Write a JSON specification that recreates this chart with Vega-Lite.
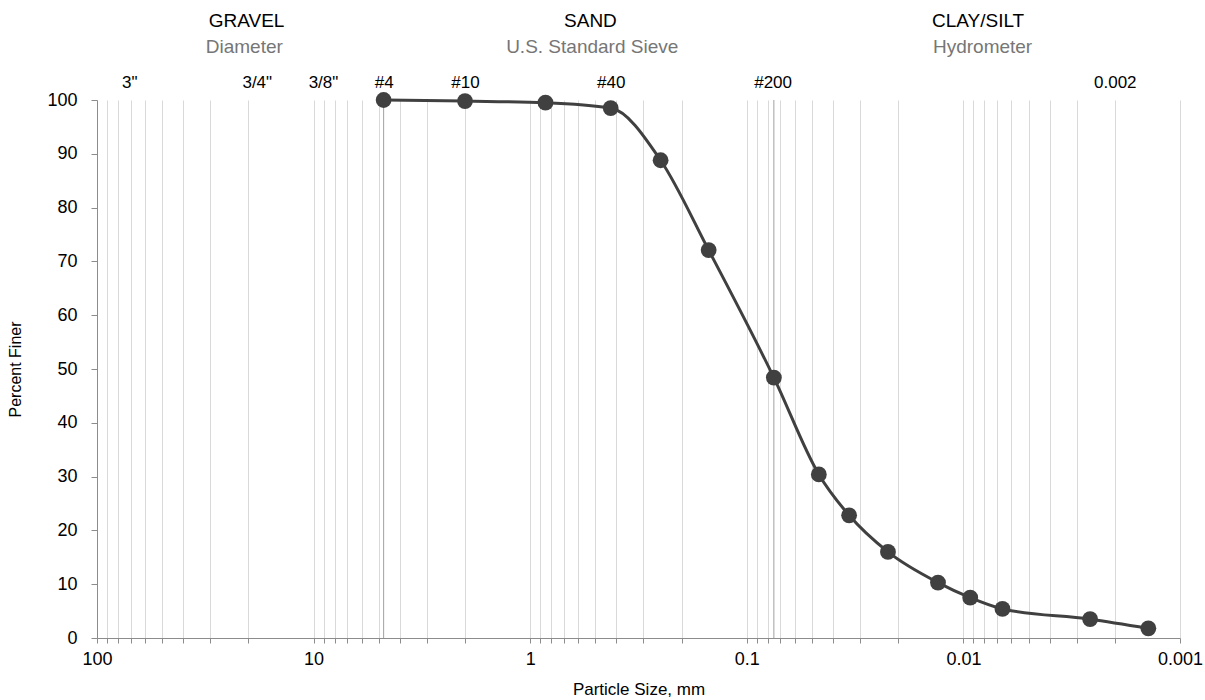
{
  "$schema": "https://vega.github.io/schema/vega-lite/v6.json",
  "width": 1083,
  "height": 538,
  "autosize": {"type": "none"},
  "padding": {"left": 97, "top": 100, "right": 25, "bottom": 62},
  "background": "white",
  "config": {
    "view": {"stroke": null},
    "font": "Liberation Sans",
    "axis": {"labelFont": "Liberation Sans", "titleFont": "Liberation Sans"},
    "axisY": {
      "values": [0, 2, 4, 6, 8, 10, 12, 14, 16, 18, 20, 22, 24, 26, 28, 30, 32, 34, 36, 38, 40, 42, 44, 46, 48, 50, 52, 54, 56, 58, 60, 62, 64, 66, 68, 70, 72, 74, 76, 78, 80, 82, 84, 86, 88, 90, 92, 94, 96, 98, 100],
      "labelExpr": "datum.value % 10 == 0 ? datum.label : ''",
      "labelOverlap": false,
      "labelBound": false,
      "grid": true,
      "gridColor": "#d9d9d9",
      "gridWidth": 1,
      "gridOpacity": {"condition": {"test": "datum.value % 10 == 0", "value": 1}, "value": 0},
      "domainColor": "#8c8c8c",
      "tickColor": "#8c8c8c",
      "tickSize": 6,
      "labelFontSize": 18,
      "labelColor": "#000000",
      "labelPadding": 14,
      "titleFontSize": 16,
      "titleFontWeight": "normal",
      "titleColor": "#000000",
      "titlePadding": 23
    }
  },
  "datasets": {
    "gradation": [
      {"size": 4.75, "finer": 100},
      {"size": 2.0, "finer": 99.8},
      {"size": 0.85, "finer": 99.5},
      {"size": 0.425, "finer": 98.5},
      {"size": 0.25, "finer": 88.8},
      {"size": 0.15, "finer": 72.1},
      {"size": 0.075, "finer": 48.4},
      {"size": 0.0465, "finer": 30.4},
      {"size": 0.0337, "finer": 22.8},
      {"size": 0.0223, "finer": 16.0},
      {"size": 0.0131, "finer": 10.3},
      {"size": 0.0093, "finer": 7.5},
      {"size": 0.0066, "finer": 5.4},
      {"size": 0.0026, "finer": 3.5},
      {"size": 0.0014, "finer": 1.8}
    ],
    "boundaries": [
      {"sieve": "#4", "size": 4.75},
      {"sieve": "#200", "size": 0.075}
    ]
  },
  "layer": [
    {
      "data": {"name": "gradation"},
      "mark": {"type": "line", "interpolate": "monotone", "color": "#404040", "strokeWidth": 3},
      "encoding": {
        "x": {
          "field": "size",
          "type": "quantitative",
          "scale": {"type": "log", "domain": [0.001, 100], "reverse": true, "nice": false},
          "axis": {
            "orient": "bottom",
            "values": [100, 90, 80, 70, 60, 50, 40, 30, 20, 10, 9, 8, 7, 6, 5, 4, 3, 2, 1, 0.9, 0.8, 0.7, 0.6, 0.5, 0.4, 0.3, 0.2, 0.1, 0.09, 0.08, 0.07, 0.06, 0.05, 0.04, 0.03, 0.02, 0.01, 0.009, 0.008, 0.007, 0.006, 0.005, 0.004, 0.003, 0.002, 0.001],
            "format": "~g",
            "labelExpr": "indexof([100, 10, 1, 0.1, 0.01, 0.001], datum.value) >= 0 ? datum.label : ''",
            "labelOverlap": false,
            "labelFlush": false,
            "labelBound": false,
            "grid": true,
            "gridColor": "#d9d9d9",
            "gridWidth": 1,
            "domainColor": "#8c8c8c",
            "tickColor": "#8c8c8c",
            "tickSize": 5,
            "labelFontSize": 18,
            "labelColor": "#000000",
            "labelPadding": 7,
            "title": "Particle Size, mm",
            "titleFontSize": 17,
            "titleFontWeight": "normal",
            "titleColor": "#000000",
            "titlePadding": 13
          }
        },
        "y": {
          "field": "finer",
          "type": "quantitative",
          "scale": {"domain": [0, 100], "nice": false},
          "title": "Percent Finer"
        },
        "order": {"field": "size", "sort": "descending"}
      }
    },
    {
      "data": {"name": "boundaries"},
      "mark": {"type": "rule", "color": "#a0a0a0", "strokeWidth": 1},
      "encoding": {
        "x": {
          "field": "size",
          "type": "quantitative",
          "axis": {
            "orient": "top",
            "values": [71, 18.3, 9.05, 4.75, 2, 0.425, 0.076, 0.002, 20.5, 0.53, 0.0086, 21, 0.52, 0.0082],
            "labelExpr": "datum.value == 71 ? '3\"' : datum.value == 18.3 ? '3/4\"' : datum.value == 9.05 ? '3/8\"' : datum.value == 4.75 ? '#4' : datum.value == 2 ? '#10' : datum.value == 0.425 ? '#40' : datum.value == 0.076 ? '#200' : datum.value == 0.002 ? '0.002' : datum.value == 20.5 ? 'GRAVEL' : datum.value == 0.53 ? 'SAND' : datum.value == 0.0086 ? 'CLAY/SILT' : datum.value == 21 ? 'Diameter' : datum.value == 0.52 ? 'U.S. Standard Sieve' : datum.value == 0.0082 ? 'Hydrometer' : ''",
            "domain": false,
            "ticks": false,
            "tickSize": 0,
            "grid": false,
            "labelOverlap": false,
            "labelFlush": false,
            "labelBound": false,
            "title": null,
            "labelFontSize": {"condition": {"test": "indexof([71, 18.3, 9.05, 4.75, 2, 0.425, 0.076, 0.002], datum.value) >= 0", "value": 17}, "value": 19},
            "labelColor": {"condition": {"test": "indexof([21, 0.52, 0.0082], datum.value) >= 0", "value": "#767676"}, "value": "#000000"},
            "labelPadding": {"condition": [
              {"test": "indexof([20.5, 0.53, 0.0086], datum.value) >= 0", "value": 70},
              {"test": "indexof([21, 0.52, 0.0082], datum.value) >= 0", "value": 44}
            ], "value": 9}
          }
        }
      }
    },
    {
      "data": {"name": "gradation"},
      "mark": {"type": "point", "filled": true, "size": 250, "color": "#404040", "opacity": 1},
      "encoding": {
        "x": {"field": "size", "type": "quantitative", "axis": null},
        "y": {"field": "finer", "type": "quantitative", "title": "Percent Finer"}
      }
    }
  ],
  "resolve": {"axis": {"x": "independent"}}
}
